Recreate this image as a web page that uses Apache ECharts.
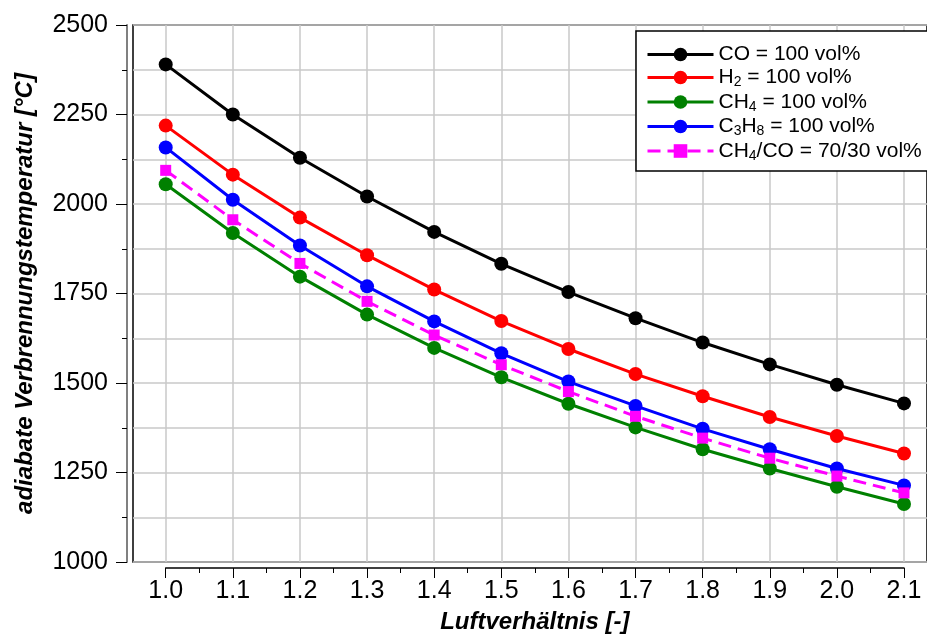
<!DOCTYPE html>
<html>
<head>
<meta charset="utf-8">
<script src="https://cdn.jsdelivr.net/npm/echarts@6/dist/echarts.min.js"></script>
<style>
  html, body { margin: 0; padding: 0; background: #fff; }
  #chart { width: 927px; height: 644px; }
</style>
</head>
<body>
<div id="chart"></div>
<script>
// Air ratio (lambda)
const lambda = [1.0, 1.1, 1.2, 1.3, 1.4, 1.5, 1.6, 1.7, 1.8, 1.9, 2.0, 2.1];

// Adiabatic combustion temperature in °C per fuel
const tCO   = [2390, 2250, 2129, 2021, 1922, 1833, 1754, 1681, 1613, 1552, 1495, 1443];
const tH2   = [2219, 2082, 1962, 1857, 1761, 1673, 1595, 1525, 1463, 1405, 1352, 1303];
const tCH4  = [2055, 1919, 1797, 1691, 1598, 1516, 1442, 1376, 1315, 1261, 1210, 1162];
const tC3H8 = [2158, 2012, 1884, 1770, 1672, 1583, 1504, 1436, 1372, 1315, 1261, 1214];
const tMix  = [2094, 1956, 1834, 1728, 1634, 1551, 1476, 1407, 1346, 1290, 1240, 1193];

// Series names and their legend texts (rich text for subscripts)
const seriesNames = ['CO', 'H2', 'CH4', 'C3H8', 'CH4/CO'];
const legendTexts = [
  '{n|CO = 100 vol%}',
  '{n|H}{s|2}{n| = 100 vol%}',
  '{n|CH}{s|4}{n| = 100 vol%}',
  '{n|C}{s|3}{n|H}{s|8}{n| = 100 vol%}',
  '{n|CH}{s|4}{n|/CO = 70/30 vol%}'
];

const xTitle = 'Luftverhältnis [-]';
const yTitle = 'adiabate Verbrennungstemperatur [°C]';

const FONT = '"Liberation Sans", Arial, sans-serif';
const GRID_COLOR = '#c8c8c8';

function pairs(values) {
  return lambda.map((x, i) => [x, values[i]]);
}

function lineSeries(name, values, color, symbol, size, dashed) {
  return {
    type: 'line',
    name: name,
    xAxisIndex: 1,
    yAxisIndex: 1,
    data: pairs(values),
    symbol: symbol,
    symbolSize: size,
    showAllSymbol: true,
    clip: false,
    itemStyle: { color: color },
    lineStyle: { color: color, width: 3, type: dashed ? [13, 7] : 'solid' },
    emphasis: { disabled: true },
    z: 3
  };
}

const chart = echarts.init(document.getElementById('chart'), null, { renderer: 'canvas' });

chart.setOption({
  animation: false,
  backgroundColor: '#fff',
  textStyle: { fontFamily: FONT, color: '#000' },
  grid: [
    // outer frame carrying the horizontal grid lines
    { left: 133, right: -12, top: 25, bottom: 82, show: true,
      borderColor: '#000', borderWidth: 1.5, backgroundColor: 'transparent' },
    // data area spanning lambda 1.0 .. 2.1
    { left: 165.7, right: 23, top: 25, bottom: 82 }
  ],
  xAxis: [
    { gridIndex: 0, type: 'value', min: 0, max: 1, show: false },
    {
      gridIndex: 1, type: 'value', min: 1.0, max: 2.1, interval: 0.1,
      offset: 6,
      axisLine: { show: true, onZero: false, lineStyle: { color: '#000', width: 1.5 } },
      axisTick: { show: true, inside: false, length: 10, lineStyle: { color: '#000', width: 1 } },
      minorTick: { show: true, splitNumber: 2, length: 5, lineStyle: { color: '#000', width: 1 } },
      axisLabel: { fontSize: 25, color: '#000', fontFamily: FONT, margin: 11,
                   formatter: v => v.toFixed(1) },
      splitLine: { show: true, lineStyle: { color: GRID_COLOR, width: 1.5 } },
      name: xTitle,
      nameLocation: 'middle',
      nameGap: 42,
      nameTextStyle: { fontSize: 24, fontWeight: 'bold', fontStyle: 'italic', color: '#000', fontFamily: FONT }
    }
  ],
  yAxis: [
    {
      gridIndex: 0, type: 'value', min: 1000, max: 2500, interval: 125,
      axisLine: { show: false }, axisTick: { show: false }, axisLabel: { show: false },
      splitLine: { show: true, lineStyle: { color: GRID_COLOR, width: 1.5 } }
    },
    {
      gridIndex: 1, type: 'value', min: 1000, max: 2500, interval: 250,
      offset: 38.7,
      axisLine: { show: true, onZero: false, lineStyle: { color: '#808080', width: 2 } },
      axisTick: { show: true, inside: false, length: 11, lineStyle: { color: '#000', width: 1 } },
      minorTick: { show: true, splitNumber: 2, length: 5, lineStyle: { color: '#000', width: 1 } },
      axisLabel: { fontSize: 25, color: '#000', fontFamily: FONT, margin: 19,
                   formatter: v => String(v) },
      splitLine: { show: false },
      name: yTitle,
      nameLocation: 'middle',
      nameGap: 90,
      nameTextStyle: { fontSize: 24, fontWeight: 'bold', fontStyle: 'italic', color: '#000', fontFamily: FONT }
    }
  ],
  legend: {
    orient: 'vertical',
    left: 636,
    top: 31,
    padding: [13, 24, 8, 10],
    itemGap: 2,
    itemWidth: 66,
    itemHeight: 17,
    backgroundColor: '#fff',
    borderColor: '#000',
    borderWidth: 1.5,
    borderRadius: 0,
    selectedMode: false,
    lineStyle: { width: 3 },
    data: seriesNames,
    formatter: name => legendTexts[seriesNames.indexOf(name)],
    textStyle: {
      fontFamily: FONT,
      fontSize: 21,
      color: '#000',
      rich: {
        n: { fontFamily: FONT, fontSize: 21, color: '#000', lineHeight: 24 },
        s: { fontFamily: FONT, fontSize: 14, color: '#000', lineHeight: 9, verticalAlign: 'bottom' }
      }
    }
  },
  series: [
    lineSeries(seriesNames[0], tCO, '#000000', 'circle', 14, false),
    lineSeries(seriesNames[1], tH2, '#ff0000', 'circle', 14, false),
    lineSeries(seriesNames[2], tCH4, '#008000', 'circle', 14, false),
    lineSeries(seriesNames[3], tC3H8, '#0000ff', 'circle', 14, false),
    lineSeries(seriesNames[4], tMix, '#ff00ff', 'rect', 11, true)
  ]
});
</script>
</body>
</html>
